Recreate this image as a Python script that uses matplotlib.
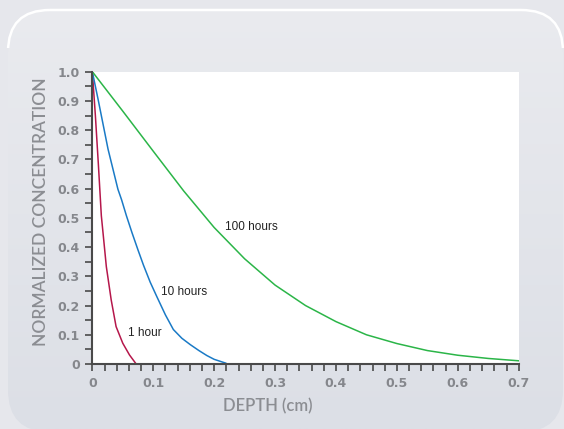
import matplotlib
matplotlib.use("Agg")
import matplotlib.pyplot as plt
import numpy as np
from matplotlib.patches import FancyBboxPatch, Rectangle

# depth (cm) vs normalized concentration
depth_1h = [0, 0.005, 0.010, 0.0148, 0.0176, 0.023, 0.031, 0.039, 0.050, 0.061, 0.072]
conc_1h = [1.0, 0.85, 0.68, 0.507, 0.448, 0.333, 0.219, 0.128, 0.071, 0.031, 0.0]

depth_10h = [0, 0.0094, 0.0258, 0.042, 0.048, 0.056, 0.065, 0.075, 0.084, 0.095, 0.106, 0.12,
             0.133, 0.147, 0.161, 0.175, 0.188, 0.2, 0.219]
conc_10h = [1.0, 0.906, 0.735, 0.598, 0.562, 0.507, 0.45, 0.39, 0.338, 0.28, 0.23, 0.168,
            0.118, 0.088, 0.066, 0.046, 0.029, 0.016, 0.003]

depth_100h = [0, 0.05, 0.1, 0.15, 0.2, 0.25, 0.3, 0.35, 0.4, 0.45, 0.5, 0.55, 0.6, 0.65, 0.7]
conc_100h = [1.0, 0.865, 0.728, 0.592, 0.467, 0.36, 0.27, 0.2, 0.145, 0.1, 0.07, 0.046, 0.03, 0.019, 0.011]

labels = ["1 hour", "10 hours", "100 hours"]
colors = ["#b5174b", "#1a7ac6", "#2bb548"]
label_pos = [(0.059, 0.105), (0.113, 0.248), (0.218, 0.469)]

gray = "#8b8d92"

fig = plt.figure(figsize=(5.64, 4.29), dpi=100)
fig.patch.set_facecolor("#e6e7ec")

# rounded panel behind the chart
bg = fig.add_axes([0, 0, 1, 1], zorder=-1)
bg.set_xlim(0, 564)
bg.set_ylim(429, 0)
bg.axis("off")
panel = FancyBboxPatch((8, 10), 555, 422, boxstyle="round,pad=0,rounding_size=42",
                       facecolor="none", edgecolor="none")
bg.add_patch(panel)
grad = np.linspace(0, 1, 200).reshape(-1, 1)
im = bg.imshow(grad, extent=[0, 564, 429, 0], aspect="auto",
               cmap=matplotlib.colors.LinearSegmentedColormap.from_list("g", ["#eaebef", "#dcdfe6"]))
im.set_clip_path(panel)
# white highlight only along the top edge
edge = FancyBboxPatch((8, 10), 555, 422, boxstyle="round,pad=0,rounding_size=42",
                      facecolor="none", edgecolor="white", linewidth=1.8)
bg.add_patch(edge)
clip = Rectangle((0, 0), 564, 48, transform=bg.transData)
edge.set_clip_path(clip)

ax = fig.add_axes([0.1637, 0.1515, 0.756, 0.6814])
ax.set_facecolor("white")

series = [(depth_1h, conc_1h), (depth_10h, conc_10h), (depth_100h, conc_100h)]
for (d, c), col, lab, pos in zip(series, colors, labels, label_pos):
    ax.plot(d, c, color=col, linewidth=1.1, solid_joinstyle="round")
    ax.text(pos[0], pos[1], lab, fontsize=8.5, family="Liberation Sans",
            color="#222222", va="center", ha="left")

ax.set_xlim(0, 0.7)
ax.set_ylim(0, 1.0)
ax.set_xticks(np.arange(0, 0.71, 0.1))
ax.set_xticklabels(["0", "0.1", "0.2", "0.3", "0.4", "0.5", "0.6", "0.7"])
ax.set_xticks(np.arange(0, 0.701, 0.02), minor=True)
ax.set_yticks(np.arange(0, 1.01, 0.1))
ax.set_yticklabels(["0"] + ["%.1f" % v for v in np.arange(0.1, 1.01, 0.1)])
ax.set_yticks(np.arange(0, 1.01, 0.05), minor=True)

for s in ["top", "right"]:
    ax.spines[s].set_visible(False)
for s in ["left", "bottom"]:
    ax.spines[s].set_color("#4a4a4a")
    ax.spines[s].set_linewidth(1.5)

ax.tick_params(which="both", direction="out", length=5, width=1.2, color="#4a4a4a")
ax.tick_params(axis="both", labelsize=9, labelcolor="#85878c", pad=4)
for t in ax.get_xticklabels() + ax.get_yticklabels():
    t.set_fontweight("bold")
    t.set_family(["Liberation Sans Narrow", "DejaVu Sans"])

fig.text(0.0727, 0.507, "NORMALIZED CONCENTRATION", rotation=90, ha="center", va="center",
         fontsize=12.5, color=gray, family="Lato", fontweight="semibold")
fig.text(0.475, 0.054, "DEPTH (cm)", ha="center", va="center",
         fontsize=12, color=gray, family="Lato", fontweight="semibold")

fig.savefig("out.png", dpi=100, facecolor=fig.get_facecolor())
